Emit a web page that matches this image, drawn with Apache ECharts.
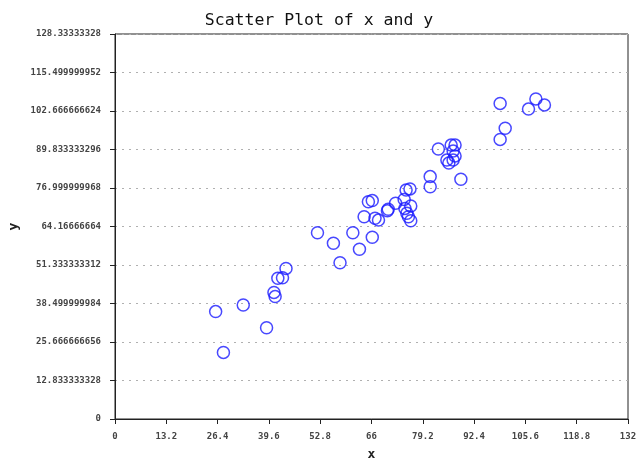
<!DOCTYPE html>
<html>
<head>
<meta charset="utf-8">
<script src="https://cdn.jsdelivr.net/npm/echarts@6/dist/echarts.min.js"></script>
<style>html,body{margin:0;padding:0;background:#fff;}#c{width:638px;height:459px;}</style>
</head>
<body>
<div id="c"></div>
<script>
const xValues = [25.9, 27.9, 33.0, 39.0, 40.9, 41.2, 41.9, 43.1, 44.0, 52.1, 56.2, 57.9, 61.2, 62.9, 64.1, 65.2, 66.2, 66.2, 66.9, 67.8, 70.1, 70.3, 72.2, 74.4, 74.9, 75.9, 74.6, 76.1, 75.1, 75.5, 76.1, 81.1, 81.1, 83.2, 86.5, 87.5, 87.0, 87.5, 85.4, 85.9, 87.0, 89.0, 99.1, 100.4, 99.1, 106.4, 108.3, 110.5];
const yValues = [35.8, 22.2, 38.0, 30.4, 42.2, 40.8, 46.9, 47.1, 50.2, 62.1, 58.6, 52.1, 62.1, 56.6, 67.4, 72.4, 72.8, 60.6, 66.9, 66.3, 69.4, 69.9, 71.9, 73.2, 76.3, 76.7, 70.2, 71.0, 68.6, 67.4, 66.1, 80.8, 77.4, 90.0, 91.3, 91.3, 89.3, 87.7, 86.3, 85.3, 86.3, 79.9, 105.2, 96.9, 93.2, 103.3, 106.7, 104.7];
const xTickLabels = ["0", "13.2", "26.4", "39.6", "52.8", "66", "79.2", "92.4", "105.6", "118.8", "132"];
const yTickLabels = ["0", "12.833333328", "25.666666656", "38.499999984", "51.333333312", "64.16666664", "76.999999968", "89.833333296", "102.666666624", "115.499999952", "128.33333328"];

const points = xValues.map((x, i) => [x, yValues[i]]);
const mono = "DejaVu Sans Mono";
const chart = echarts.init(document.getElementById('c'));
chart.setOption({
  backgroundColor: '#fff',
  animation: false,
  title: {
    text: 'Scatter Plot of x and y',
    left: 'center',
    top: 7,
    textStyle: { fontFamily: mono, fontSize: 16.5, fontWeight: 'normal', color: '#111' }
  },
  grid: { left: 115, right: 10, top: 34, bottom: 40, show: true, borderColor: '#222', borderWidth: 1,
    backgroundColor: 'transparent', outerBoundsMode: 'none', containLabel: false },
  xAxis: {
    type: 'value', min: 0, max: 132, interval: 13.2,
    name: 'x', nameLocation: 'middle', nameGap: 29,
    nameTextStyle: { fontFamily: mono, fontSize: 13, fontWeight: 'bold', color: '#222' },
    axisLine: { show: true, lineStyle: { color: '#222', width: 1 } },
    axisTick: { show: true, length: 5, lineStyle: { color: '#222' } },
    axisLabel: { fontFamily: mono, fontSize: 9, fontWeight: 'bold', color: '#444', margin: 13,
      formatter: (v, i) => xTickLabels[i] },
    splitLine: { show: false }
  },
  yAxis: {
    type: 'value', min: 0, max: 128.33333328, interval: 12.833333328,
    name: 'y', nameLocation: 'middle', nameGap: 95, nameRotate: 90,
    nameTextStyle: { fontFamily: mono, fontSize: 13, fontWeight: 'bold', color: '#222' },
    axisLine: { show: true, lineStyle: { color: '#222', width: 1 } },
    axisTick: { show: true, length: 5, lineStyle: { color: '#222' } },
    axisLabel: { fontFamily: mono, fontSize: 9, fontWeight: 'bold', color: '#444', margin: 14,
      formatter: (v, i) => yTickLabels[i] },
    splitLine: { show: true, lineStyle: { color: '#b0b0b0', type: [2, 5], width: 1 } }
  },
  series: [{
    type: 'scatter',
    data: points,
    symbol: 'circle',
    symbolSize: 12,
    itemStyle: { color: 'rgba(0,0,0,0)', borderColor: '#1a1aff', borderWidth: 1.5 }
  }]
});
</script>
</body>
</html>
